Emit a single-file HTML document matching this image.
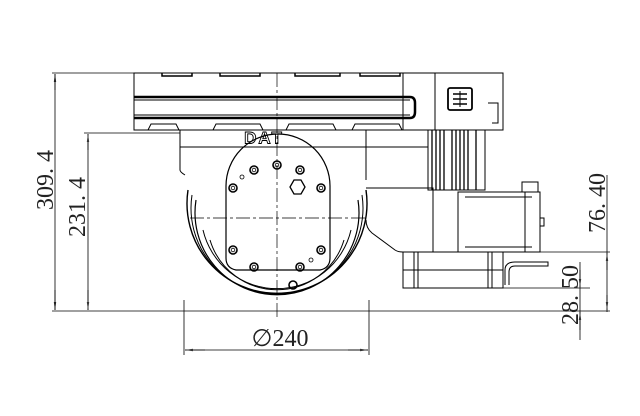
<!DOCTYPE html>
<html><head><style>html,body{margin:0;padding:0;background:#fff}svg{display:block}</style></head>
<body>
<svg width="640" height="416" viewBox="0 0 640 416" xmlns="http://www.w3.org/2000/svg" font-family="Liberation Serif, serif">
<defs>
<marker id="a" markerWidth="10" markerHeight="6" refX="10" refY="3" orient="auto"><path d="M0,1.5 L10,3 L0,4.5z" fill="#333"/></marker>
</defs>
<g stroke="#000" stroke-width="1" fill="none">
<line x1="52" y1="73" x2="134" y2="73" stroke-width="0.8"/>
<line x1="52" y1="311" x2="610" y2="311" stroke-width="0.8"/>
<line x1="84" y1="133" x2="180" y2="133" stroke-width="0.8"/>
<line x1="55" y1="90" x2="55" y2="74" marker-end="url(#a)" stroke-width="0.8"/>
<line x1="55" y1="290" x2="55" y2="310" marker-end="url(#a)" stroke-width="0.8"/>
<line x1="55" y1="74" x2="55" y2="310" stroke-width="0.8"/>
<line x1="88" y1="134" x2="88" y2="310" stroke-width="0.8"/>
<line x1="88" y1="150" x2="88" y2="134" marker-end="url(#a)" stroke-width="0.8"/>
<line x1="88" y1="290" x2="88" y2="310" marker-end="url(#a)" stroke-width="0.8"/>
<line x1="184" y1="300" x2="184" y2="355" stroke-width="0.8"/>
<line x1="369" y1="300" x2="369" y2="355" stroke-width="0.8"/>
<line x1="185" y1="350" x2="368" y2="350" stroke-width="0.8"/>
<line x1="205" y1="350" x2="185" y2="350" marker-end="url(#a)" stroke-width="0.8"/>
<line x1="348" y1="350" x2="368" y2="350" marker-end="url(#a)" stroke-width="0.8"/>
<line x1="505" y1="252" x2="610" y2="252" stroke-width="0.8"/>
<line x1="607" y1="175" x2="607" y2="312" stroke-width="0.8"/>
<line x1="607" y1="270" x2="607" y2="253" marker-end="url(#a)" stroke-width="0.8"/>
<line x1="607" y1="295" x2="607" y2="310" marker-end="url(#a)" stroke-width="0.8"/>
<line x1="503" y1="288" x2="590" y2="288" stroke-width="0.8"/>
<line x1="580" y1="262" x2="580" y2="340" stroke-width="0.8"/>
<line x1="580" y1="270" x2="580" y2="287" marker-end="url(#a)" stroke-width="0.8"/>
<line x1="580" y1="330" x2="580" y2="312" marker-end="url(#a)" stroke-width="0.8"/>

<rect x="134" y="73" width="369" height="57"/>
<line x1="403" y1="73" x2="403" y2="130"/>
<line x1="435" y1="73" x2="435" y2="130"/>
<path d="M134,97 H410 Q415,97 415,103 V112 Q415,118 410,118 H134" stroke-width="2.5"/>
<line x1="134" y1="100" x2="410" y2="100"/>
<line x1="134" y1="115" x2="410" y2="115"/>
<path d="M162,73 v3 h30 v-3 M220,73 v3 h40 v-3 M295,73 v3 h45 v-3 M360,73 v3 h40 v-3" stroke-width="1.5"/>
<path d="M148,130 l3,-6 h25 l3,6 M213,130 l3,-6 h44 l3,6 M286,130 l3,-6 h44 l3,6 M352,130 l3,-6 h44 l3,6"/>
<rect x="448" y="88" width="24" height="22" rx="2" stroke-width="1.8"/>
<line x1="453" y1="94" x2="467" y2="94" stroke-width="1.5"/><line x1="453" y1="99" x2="467" y2="99" stroke-width="1.5"/><line x1="453" y1="104" x2="467" y2="104" stroke-width="1.5"/>
<line x1="460" y1="91" x2="460" y2="107"/>
<path d="M488,103 h10 v20 h-6"/>
<path d="M180,130 V170 Q180,172 185,175 M366,130 V180"/>
<line x1="180" y1="147" x2="366" y2="147"/>
<text x="264" y="143.5" font-family="Liberation Sans, sans-serif" font-size="17" font-weight="bold" letter-spacing="2" fill="#fff" stroke="#000" stroke-width="0.9" text-anchor="middle">DAT</text>
<path d="M188,190 A90,90 0 1 0 366,190" stroke-width="1.4"/>
<path d="M192,195 A86,86 0 1 0 362,195"/>
<path d="M196,200 A82,82 0 1 0 358,200" stroke-width="1.2"/>
<path d="M203,230 A76,76 0 0 0 351,230"/>
<path d="M210,240 A70,70 0 0 0 344,240"/>
<path d="M226,186 A52,52 0 0 1 330,186 V258 Q330,268 320,270 H236 Q226,268 226,258 Z" stroke-width="1.2"/>
<g stroke-width="1.6">
<circle cx="254" cy="170" r="4"/><circle cx="277" cy="165" r="4"/><circle cx="300" cy="170" r="4"/>
<circle cx="233" cy="188" r="4"/><circle cx="321" cy="188" r="4"/>
<circle cx="233" cy="250" r="4"/><circle cx="321" cy="250" r="4"/>
<circle cx="254" cy="267" r="4"/><circle cx="300" cy="267" r="4"/>
<circle cx="293" cy="285" r="4"/>
</g>
<g stroke-width="0.8">
<circle cx="254" cy="170" r="1.8"/><circle cx="277" cy="165" r="1.8"/><circle cx="300" cy="170" r="1.8"/>
<circle cx="233" cy="188" r="1.8"/><circle cx="321" cy="188" r="1.8"/>
<circle cx="233" cy="250" r="1.8"/><circle cx="321" cy="250" r="1.8"/>
<circle cx="254" cy="267" r="1.8"/><circle cx="300" cy="267" r="1.8"/>
<circle cx="242" cy="177" r="2"/><circle cx="311" cy="260" r="2"/>
</g>
<polygon points="294,180 301,180 305,187 301,194 294,194 290,187" stroke-width="1.3"/>
<line x1="277" y1="73" x2="277" y2="318" stroke-dasharray="14,3,3,3" stroke-width="0.7"/>
<line x1="190" y1="218" x2="366" y2="218" stroke-dasharray="14,3,3,3" stroke-width="0.7"/>
<rect x="428" y="130" width="57" height="60"/>
<path d="M432,130 v60 M436,130 v60 M440,130 v60 M444,130 v60 M452,130 v60 M456,130 v60 M460,130 v60 M464,130 v60 M468,130 v60 M476,130 v60" stroke-width="1.3"/>
<path d="M366,188 H433 V252 H403 Q398,252 395,250 L372,233 Q366,228 366,220"/>
<line x1="366" y1="147" x2="428" y2="147"/>
<rect x="458" y="192" width="82" height="60"/>
<line x1="465" y1="197" x2="532" y2="197"/><line x1="465" y1="247" x2="532" y2="247"/>
<line x1="525" y1="192" x2="525" y2="252"/>
<path d="M522,192 v-10 h16 v10"/>
<rect x="540" y="218" width="4" height="8"/>
<rect x="403" y="252" width="100" height="36"/>
<path d="M414,252 v36 M418,252 v36 M488,252 v36 M492,252 v36"/>
<line x1="403" y1="270" x2="503" y2="270"/>
<path d="M505,285 V270 Q505,262 515,262 H548 v4 H515 Q509,266 509,272 V285"/>
</g>
<g fill="#222" font-size="24">
<text transform="translate(53,180) rotate(-90)" text-anchor="middle">309. 4</text>
<text transform="translate(85,207) rotate(-90)" text-anchor="middle">231. 4</text>
<text transform="translate(605,203) rotate(-90)" text-anchor="middle">76. 40</text>
<text transform="translate(578,295) rotate(-90)" text-anchor="middle">28. 50</text>
<text x="280" y="346" text-anchor="middle">∅240</text>
</g>
</svg>
</body></html>
